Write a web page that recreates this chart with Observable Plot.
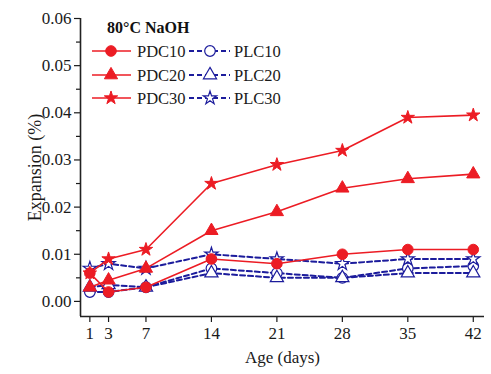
<!DOCTYPE html>
<html><head><meta charset="utf-8">
<script src="https://cdn.jsdelivr.net/npm/d3@7"></script>
<script src="https://cdn.jsdelivr.net/npm/@observablehq/plot@0.6"></script>
<style>
body{margin:0;background:#fff;}
#wrap{position:relative;width:491px;height:374px;font-family:"Liberation Serif","Times New Roman",serif;}
#legend{position:absolute;left:0;top:0;}
</style></head><body>
<div id="wrap"></div>
<script>
const days = [1, 3, 7, 14, 21, 28, 35, 42];
const PDC10 = [0.006, 0.002, 0.003, 0.009, 0.008, 0.010, 0.011, 0.011];
const PDC20 = [0.003, 0.0045, 0.007, 0.015, 0.019, 0.024, 0.026, 0.027];
const PDC30 = [0.006, 0.009, 0.011, 0.025, 0.029, 0.032, 0.039, 0.0395];
const PLC10 = [0.002, 0.002, 0.003, 0.007, 0.006, 0.005, 0.007, 0.0075];
const PLC20 = [0.003, 0.0035, 0.003, 0.006, 0.005, 0.005, 0.006, 0.006];
const PLC30 = [0.007, 0.008, 0.007, 0.010, 0.009, 0.008, 0.009, 0.009];
const yTicks = [0, 0.01, 0.02, 0.03, 0.04, 0.05, 0.06];
const yMinor = [0.005, 0.015, 0.025, 0.035, 0.045, 0.055];
const title = "80°C NaOH";

const RED = "#ec1c24", BLUE = "#1c1c9c";
const series = [
  {name: "PDC10", vals: PDC10, symbol: "circle", kind: "PDC"},
  {name: "PDC20", vals: PDC20, symbol: "triangle", kind: "PDC"},
  {name: "PDC30", vals: PDC30, symbol: "star", kind: "PDC"},
  {name: "PLC10", vals: PLC10, symbol: "circle", kind: "PLC"},
  {name: "PLC20", vals: PLC20, symbol: "triangle", kind: "PLC"},
  {name: "PLC30", vals: PLC30, symbol: "star", kind: "PLC"}
];
const R = {circle: 5.3, triangle: 4.9, star: 4.2};
const rows = s => s.vals.map((v, i) => ({day: days[i], v, name: s.name}));
const blue = series.filter(s => s.kind === "PLC");
const red = series.filter(s => s.kind === "PDC");
const marks = [];
for (const s of blue) marks.push(Plot.line(rows(s), {x: "day", y: "v", stroke: BLUE, strokeWidth: 2, strokeDasharray: "5,3"}));
for (const s of blue) marks.push(Plot.dot(rows(s), {x: "day", y: "v", symbol: () => s.symbol, stroke: BLUE, strokeWidth: 1.2, fill: "white", r: R[s.symbol]}));
for (const s of red) marks.push(Plot.line(rows(s), {x: "day", y: "v", stroke: RED, strokeWidth: 1.6}));
for (const s of red) marks.push(Plot.dot(rows(s), {x: "day", y: "v", symbol: () => s.symbol, fill: RED, stroke: RED, strokeWidth: 1, r: R[s.symbol]}));

const chart = Plot.plot({
  width: 491, height: 374,
  marginLeft: 80, marginRight: 7, marginTop: 18, marginBottom: 58,
  style: {fontFamily: '"Liberation Serif","Times New Roman",serif', fontSize: "17px", color: "#1a1a1a", background: "white"},
  x: {domain: [0, 43.2]},
  y: {domain: [-0.0032, 0.06]},
  symbol: {type: "identity"},
  marks: [
    Plot.axisY(yTicks, {tickSize: 6, tickPadding: 3, tickFormat: d3.format(".2f"), label: null, fontSize: 17, strokeWidth: 1.2}),
    Plot.axisY({label: "Expansion (%)", ticks: [], labelAnchor: "center", labelOffset: 52, labelArrow: "none", fontSize: 18}),
    Plot.axisY(yMinor, {tickSize: 4, tickFormat: () => "", label: null, strokeWidth: 1.2}),
    Plot.axisX(days, {tickSize: 6, tickPadding: 4, label: "Age (days)", labelAnchor: "center", labelOffset: 46, labelArrow: "none", fontSize: 17, strokeWidth: 1.2}),
    Plot.ruleX([0], {stroke: "#222", strokeWidth: 1.6}),
    Plot.ruleY([-0.0032], {stroke: "#222", strokeWidth: 1.6}),
    ...marks
  ]
});
const wrap = document.getElementById("wrap");
wrap.appendChild(chart);

// Legend overlay
const svg = d3.select(wrap).append("svg").attr("id", "legend").attr("width", 491).attr("height", 120)
  .style("font-family", '"Liberation Serif","Times New Roman",serif');
svg.append("text").attr("x", 107).attr("y", 33).attr("font-weight", "bold").attr("font-size", 16).attr("fill", "#111").text(title);
const sym = {circle: d3.symbolCircle, triangle: d3.symbolTriangle, star: d3.symbolStar};
const rowY = [51, 75, 98];
red.forEach((s, i) => {
  const g = svg.append("g").attr("transform", `translate(0,${rowY[i]})`);
  g.append("line").attr("x1", 92).attr("x2", 131).attr("stroke", RED).attr("stroke-width", 1.6);
  g.append("path").attr("transform", "translate(111,0)").attr("d", d3.symbol(sym[s.symbol], Math.PI * R[s.symbol] ** 2)()).attr("fill", RED).attr("stroke", RED);
  g.append("text").attr("x", 137).attr("y", 5.5).attr("font-size", 16.5).attr("fill", "#1a1a1a").text(s.name);
});
blue.forEach((s, i) => {
  const g = svg.append("g").attr("transform", `translate(0,${rowY[i]})`);
  g.append("line").attr("x1", 189).attr("x2", 230).attr("stroke", BLUE).attr("stroke-width", 2).attr("stroke-dasharray", "5,3");
  g.append("path").attr("transform", "translate(210,0)").attr("d", d3.symbol(sym[s.symbol], Math.PI * R[s.symbol] ** 2)()).attr("fill", "white").attr("stroke", BLUE).attr("stroke-width", 1.2);
  g.append("text").attr("x", 234).attr("y", 5.5).attr("font-size", 16.5).attr("fill", "#1a1a1a").text(s.name);
});
</script></body></html>
